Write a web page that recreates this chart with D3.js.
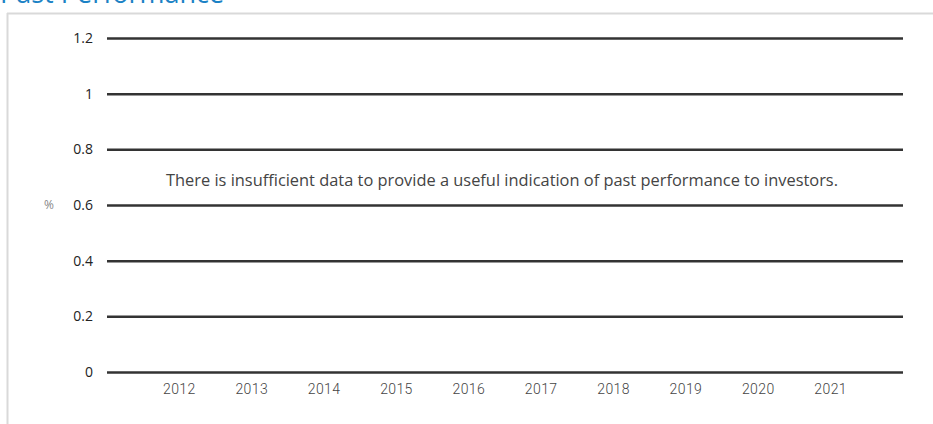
<!DOCTYPE html>
<html>
<head>
<meta charset="utf-8">
<script src="https://cdn.jsdelivr.net/npm/d3@7"></script>
<style>
    body { margin: 0; background: #fff; }
    svg { display: block; }
</style>
</head>
<body>
<div id="chart"></div>
<script>
// chart values
var title = "Past Performance";
var years = ["2012", "2013", "2014", "2015", "2016", "2017", "2018", "2019", "2020", "2021"];
var yTicks = [0, 0.2, 0.4, 0.6, 0.8, 1, 1.2];
var yUnit = "%";
var message = "There is insufficient data to provide a useful indication of past performance to investors.";

var width = 933, height = 424;
var margin = { top: 38, right: 30, bottom: 52, left: 107 };

var svg = d3.select("#chart").append("svg").attr("width", width).attr("height", height);

// title, cut off at the top like the reference
svg.append("text").attr("x", 0).attr("y", 3)
    .attr("font-family", "Open Sans").attr("font-size", 27)
    .attr("fill", "#1b82c5").text(title);

// frame: top and left border
svg.append("line").attr("x1", 7).attr("x2", width).attr("y1", 13.5).attr("y2", 13.5)
    .attr("stroke", "#d9d9d9").attr("stroke-width", 2);
svg.append("line").attr("x1", 7.5).attr("x2", 7.5).attr("y1", 13).attr("y2", height)
    .attr("stroke", "#d9d9d9").attr("stroke-width", 2);

var x = d3.scaleBand().domain(years)
    .range([margin.left, width - margin.right]).paddingInner(0).paddingOuter(0.5);
var y = d3.scaleLinear().domain([0, 1.2]).range([height - margin.bottom, margin.top]);

// y axis / gridlines
var yAxis = svg.append("g").attr("transform", "translate(" + margin.left + ",0)")
    .call(d3.axisLeft(y).tickValues(yTicks).tickSize(-(width - margin.left - margin.right))
        .tickPadding(14).tickFormat(function (d) { return d3.format("")(d); }));
yAxis.select(".domain").remove();
yAxis.selectAll(".tick line").attr("stroke", "#333").attr("stroke-width", 2.5);
yAxis.selectAll(".tick text").attr("font-family", "Open Sans").attr("font-size", 14)
    .attr("fill", "#222");

// x axis labels
var xAxis = svg.append("g").attr("transform", "translate(0," + (height - margin.bottom) + ")")
    .call(d3.axisBottom(x).tickSize(0).tickPadding(12));
xAxis.select(".domain").remove();
xAxis.selectAll(".tick text").attr("font-family", "Roboto").attr("font-weight", 300)
    .attr("font-size", 14).attr("fill", "#444").attr("letter-spacing", "0.4px");

// unit label
svg.append("text").attr("x", 49).attr("y", y(0.6)).attr("dy", "0.3em")
    .attr("text-anchor", "middle").attr("font-family", "Open Sans").attr("font-size", 12)
    .attr("fill", "#888").text(yUnit);

// message
svg.append("text").attr("x", 502).attr("y", 186)
    .attr("text-anchor", "middle").attr("font-family", "Open Sans").attr("font-size", 16.4)
    .attr("fill", "#444").text(message);
</script>
</body>
</html>
